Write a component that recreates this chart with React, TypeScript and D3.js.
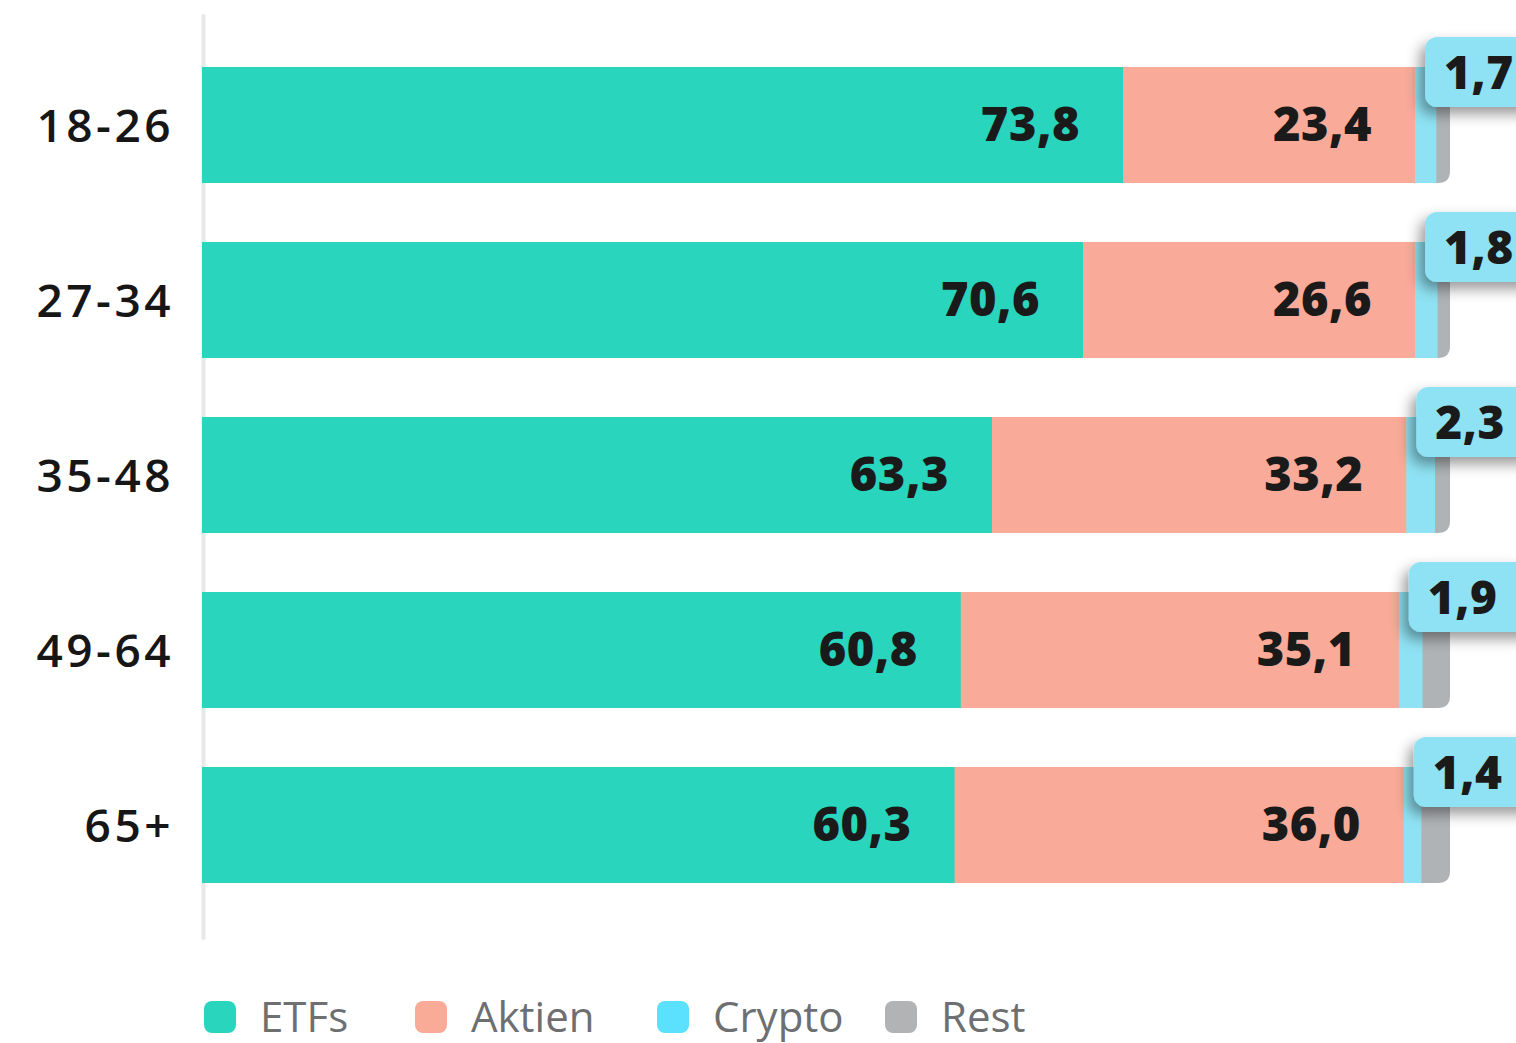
import React from "react";
import * as d3 from "d3";

const categories = ["18-26", "27-34", "35-48", "49-64", "65+"];
const etfs = [73.8, 70.6, 63.3, 60.8, 60.3];
const aktien = [23.4, 26.6, 33.2, 35.1, 36.0];
const crypto = [1.7, 1.8, 2.3, 1.9, 1.4];
const rest = [1.1, 1.0, 1.2, 2.2, 2.3];
const seriesNames = ["ETFs", "Aktien", "Crypto", "Rest"];
const barColors = ["#29d5bd", "#f9aa98", "#8fe2f3", "#b0b3b6"];
const legendColors = ["#29d5bd", "#f9ab98", "#5be0fd", "#b1b3b5"];

const W = 1516;
const H = 1043;
const FONT = "'Open Sans', Lato, sans-serif";

const fmt = (v: number) => v.toFixed(1).replace(".", ",");

export default function App() {
  const x = d3.scaleLinear().domain([0, 100]).range([202, 1450]);
  const y = d3
    .scaleBand<string>()
    .domain(categories)
    .range([37.5, 912.5])
    .paddingInner(0.337)
    .paddingOuter(0.337 / 2);
  const bh = y.bandwidth();

  const rows = categories.map((c, i) => ({
    cat: c,
    vals: [etfs[i], aktien[i], crypto[i], rest[i]],
  }));

  const legendX = [204, 415, 657, 885];

  return (
    <svg
      width={W}
      height={H}
      style={{ position: "absolute", left: 0, top: 0, background: "#fff" }}
      fontFamily={FONT}
    >
      <defs>
        <filter id="shadow" x="-50%" y="-50%" width="200%" height="200%">
          <feDropShadow dx={-5} dy={7} stdDeviation={7} floodColor="#000" floodOpacity={0.4} />
        </filter>
      </defs>
      <line x1={203.5} x2={203.5} y1={16} y2={938} stroke="#e8e8e8" strokeWidth={4} strokeLinecap="round" />
      {rows.map((r) => {
        const y0 = y(r.cat)!;
        let acc = 0;
        const segs = r.vals.map((v, k) => {
          const s = { k, v, x0: x(acc), x1: x(acc + v) };
          acc += v;
          return s;
        });
        const last = segs[3];
        const rr = Math.min(12, last.x1 - last.x0);
        const restPath = `M${last.x0},${y0} H${last.x1 - rr} Q${last.x1},${y0} ${last.x1},${y0 + rr} V${y0 + bh - rr} Q${last.x1},${y0 + bh} ${last.x1 - rr},${y0 + bh} H${last.x0} Z`;
        const cs = segs[2];
        const boxX = cs.x0 + 10;
        const boxY = y0 - 30;
        return (
          <g key={r.cat}>
            {segs.slice(0, 3).map((s) => (
              <rect key={s.k} x={s.x0} y={y0} width={s.x1 - s.x0 + 0.5} height={bh} fill={barColors[s.k]} />
            ))}
            <path d={restPath} fill={barColors[3]} />
            {segs.slice(0, 2).map((s) => (
              <text
                key={"t" + s.k}
                x={s.x1 - 43}
                y={y0 + bh / 2 - 1}
                dy="0.36em"
                textAnchor="end"
                fontSize={47}
                fontWeight={800}
                letterSpacing={0.5}
                fill="#1a1a1a"
              >
                {fmt(s.v)}
              </text>
            ))}
            <rect x={boxX} y={boxY} width={130} height={70} rx={12} fill="#8fe2f3" filter="url(#shadow)" />
            <text x={boxX + 19} y={boxY + 35} dy="0.36em" fontSize={46} fontWeight={800} letterSpacing={0.5} fill="#1a1a1a">
              {fmt(cs.v)}
            </text>
            <text
              x={174}
              y={y0 + bh / 2}
              dy="0.36em"
              textAnchor="end"
              fontSize={46}
              fontWeight={600}
              letterSpacing={3.5}
              fill="#161616"
            >
              {r.cat}
            </text>
          </g>
        );
      })}
      {seriesNames.map((n, k) => (
        <g key={n}>
          <rect x={legendX[k]} y={1001} width={32} height={32} rx={8} fill={legendColors[k]} />
          <text x={legendX[k] + 56} y={1017} dy="0.36em" fontSize={42} fontWeight={400} fill="#6d6f71">
            {n}
          </text>
        </g>
      ))}
    </svg>
  );
}
